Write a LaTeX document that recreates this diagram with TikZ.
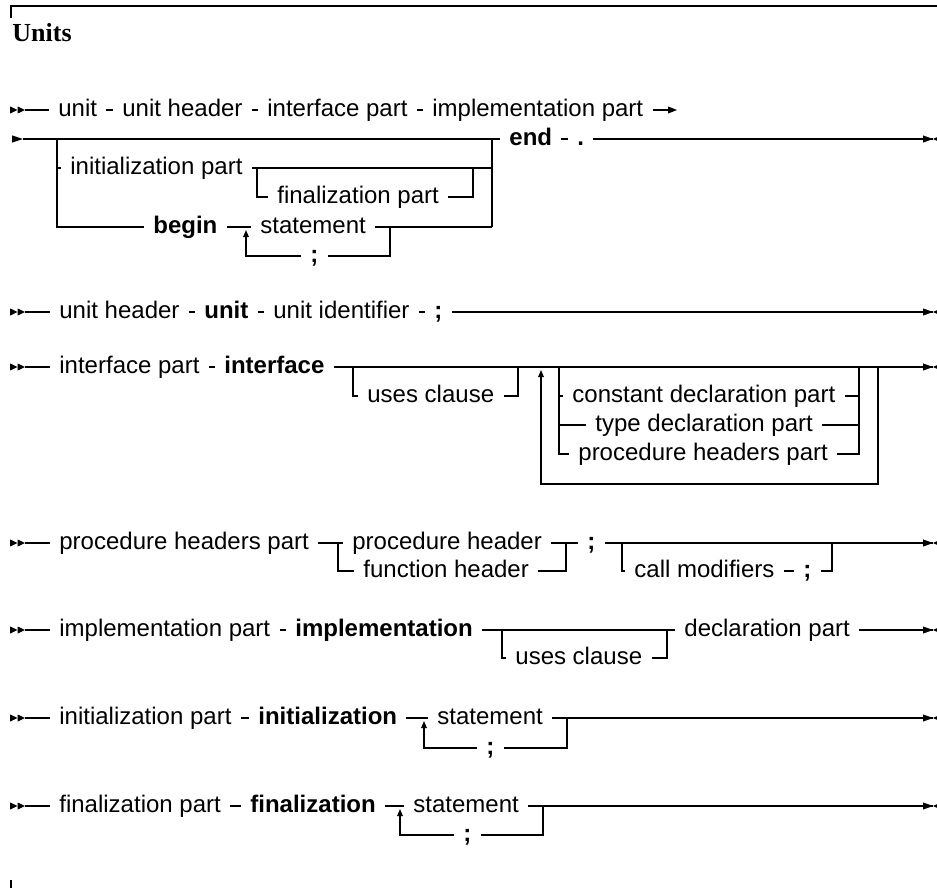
\documentclass[tikz,border=0pt]{standalone}
\usepackage{fontspec}
\setmainfont{Liberation Serif}
\setsansfont{Liberation Sans}
\usetikzlibrary{arrows.meta}
\tikzset{
  rail/.style={line width=0.6pt},
  nt/.style={font=\sffamily\fontsize{12}{14}\selectfont, inner xsep=4.5pt, inner ysep=0pt, anchor=mid west},
  kw/.style={nt, font=\sffamily\bfseries\fontsize{12}{14}\selectfont},
  loopback/.style={rail, -{Triangle[length=3.5pt,width=2.8pt]}},
  goon/.style={rail, -{Triangle[length=4.5pt,width=3.4pt]}},
  startmark/.pic={\fill (0,-3.6) -- (7.5,0) -- (0,3.6) -- cycle;
                  \fill (7.5,-3.6) -- (15,0) -- (7.5,3.6) -- cycle;},
  contmark/.pic={\fill (0,-3.6) -- (11,0) -- (0,3.6) -- cycle;},
  endmark/.pic={\fill (-10,-3.6) -- (0,0) -- (-10,3.6) -- cycle;
                \fill (8,-3.6) -- (0,0) -- (8,3.6) -- cycle;}
}
\begin{document}
\begin{tikzpicture}[x=0.5pt, y=-0.5pt]
   \sffamily\fontsize{12}{14}\selectfont
   \useasboundingbox (0,0) rectangle (937,888);
   \draw[line width=0.8pt] (11,18) -- (11,6) -- (937,6);
   \draw[line width=0.6pt] (11,880) -- (11,888);
   \node[anchor=base west, inner sep=0pt, font=\rmfamily\bfseries\fontsize{13}{15}\selectfont] (title) at (12,42) {Units};
   % unit
   \pic at (10,110) {startmark};
   \coordinate (uS) at (25,110);
   \node[nt] (uA) at (49,110) {unit};
   \node[nt] (uB) at (113,110) {unit header};
   \node[nt] (uC) at (258,110) {interface part};
   \node[nt] (uD) at (423,110) {implementation part};
   \coordinate (uT) at (677,110);
   \draw[rail] (uS) -- (uA.mid west) (uA.mid east) -- (uB.mid west) (uB.mid east) -- (uC.mid west) (uC.mid east) -- (uD.mid west);
   \draw[goon] (uD.mid east) -- (uT);
   \pic at (12,139) {contmark};
   \coordinate (uS2) at (23,139);
   \coordinate (uL) at (57,139);
   \coordinate (uR) at (492,139);
   \coordinate (uRb) at (492,227);
   \node[kw] (uEnd) at (500,139) {end};
   \node[kw] (uDot) at (568,139) {.};
   \coordinate (uE) at (933,139);
   \draw[rail] (uS2) -- (uEnd.mid west) (uEnd.mid east) -- (uDot.mid west) (uDot.mid east) -- (uE);
   \pic at (uE) {endmark};
   \node[nt] (uInit) at (61,168) {initialization part};
   \coordinate (uF1) at (257,168);
   \coordinate (uF2) at (473,168);
   \node[nt] (uFin) at (268,197) {finalization part};
   \node[kw] (uBegin) at (144,227) {begin};
   \coordinate (uLp) at (246,227);
   \coordinate (uLpa) at (246,230);
   \node[nt] (uStmt) at (251,227) {statement};
   \coordinate (uLq) at (390,227);
   \node[kw] (uSemi) at (301,256) {;};
   \draw[rail] (uL) |- (uInit.mid west) (uL) |- (uBegin.mid west) (uR) -- (uRb);
   \draw[rail] (uInit.mid east) -- (uR |- uF2);
   \draw[rail] (uF1) |- (uFin.mid west) (uFin.mid east) -| (uF2);
   \draw[rail] (uBegin.mid east) -- (uStmt.mid west) (uStmt.mid east) -- (uRb);
   \draw[rail] (uLq) |- (uSemi.mid east);
   \draw[loopback] (uSemi.mid west) -| (uLpa);
   % unit header
   \pic at (10,312) {startmark};
   \coordinate (hS) at (25,312);
   \node[nt] (hA) at (50,312) {unit header};
   \node[kw] (hB) at (195,312) {unit};
   \node[nt] (hC) at (264,312) {unit identifier};
   \node[kw] (hD) at (425,312) {;};
   \coordinate (hE) at (933,312);
   \draw[rail] (hS) -- (hA.mid west) (hA.mid east) -- (hB.mid west) (hB.mid east) -- (hC.mid west) (hC.mid east) -- (hD.mid west) (hD.mid east) -- (hE);
   \pic at (hE) {endmark};
   % interface part
   \pic at (10,367) {startmark};
   \coordinate (iS) at (25,367);
   \node[nt] (iA) at (50,367) {interface part};
   \node[kw] (iB) at (215,367) {interface};
   \coordinate (iU) at (353,367);
   \node[nt] (iUses) at (358,396) {uses clause};
   \coordinate (iJ) at (518,367);
   \coordinate (iLpa) at (541,370);
   \coordinate (iLpb) at (541,484);
   \coordinate (iC1) at (559,367);
   \coordinate (iC2) at (859,367);
   \coordinate (iLq) at (878,367);
   \coordinate (iLqb) at (878,484);
   \node[nt] (iCon) at (563,396) {constant declaration part};
   \node[nt] (iTyp) at (586,425) {type declaration part};
   \node[nt] (iPro) at (569,454) {procedure headers part};
   \coordinate (iE) at (933,367);
   \draw[rail] (iS) -- (iA.mid west) (iA.mid east) -- (iB.mid west) (iB.mid east) -- (iE);
   \pic at (iE) {endmark};
   \draw[rail] (iU) |- (iUses.mid west) (iUses.mid east) -| (iJ);
   \draw[rail] (iC1) |- (iCon.mid west) (iC1) |- (iTyp.mid west) (iC1) |- (iPro.mid west);
   \draw[rail] (iCon.mid east) -| (iC2) (iTyp.mid east) -| (iC2) (iPro.mid east) -| (iC2);
   \draw[loopback] (iLq) -- (iLqb) -- (iLpb) -- (iLpa);
   % procedure headers part
   \pic at (10,543) {startmark};
   \coordinate (pS) at (25,543);
   \node[nt] (pA) at (50,543) {procedure headers part};
   \coordinate (pU) at (338,543);
   \node[nt] (pB) at (343,543) {procedure header};
   \node[nt] (pFun) at (354,571) {function header};
   \coordinate (pJ) at (566,543);
   \node[kw] (pC) at (578,543) {;};
   \coordinate (pU2) at (622,543);
   \node[nt] (pCall) at (625,571) {call modifiers};
   \node[kw] (pSemi) at (794,571) {;};
   \coordinate (pJ2) at (832,543);
   \coordinate (pE) at (933,543);
   \draw[rail] (pS) -- (pA.mid west) (pA.mid east) -- (pB.mid west) (pB.mid east) -- (pC.mid west) (pC.mid east) -- (pE);
   \pic at (pE) {endmark};
   \draw[rail] (pU) |- (pFun.mid west) (pFun.mid east) -| (pJ);
   \draw[rail] (pU2) |- (pCall.mid west) (pCall.mid east) -- (pSemi.mid west) (pSemi.mid east) -| (pJ2);
   % implementation part
   \pic at (10,630) {startmark};
   \coordinate (mS) at (25,630);
   \node[nt] (mA) at (50,630) {implementation part};
   \node[kw] (mB) at (286,630) {implementation};
   \coordinate (mU) at (502,630);
   \node[nt] (mUses) at (506,658) {uses clause};
   \coordinate (mJ) at (667,630);
   \node[nt] (mD) at (675,630) {declaration part};
   \coordinate (mE) at (933,630);
   \draw[rail] (mS) -- (mA.mid west) (mA.mid east) -- (mB.mid west) (mB.mid east) -- (mD.mid west) (mD.mid east) -- (mE);
   \pic at (mE) {endmark};
   \draw[rail] (mU) |- (mUses.mid west) (mUses.mid east) -| (mJ);
   % initialization part
   \pic at (10,718) {startmark};
   \coordinate (nS) at (25,718);
   \node[nt] (nA) at (50,718) {initialization part};
   \node[kw] (nB) at (249,718) {initialization};
   \coordinate (nLpa) at (424,721);
   \node[nt] (nStmt) at (428,718) {statement};
   \coordinate (nLq) at (567,718);
   \node[kw] (nSemi) at (477,748) {;};
   \coordinate (nE) at (933,718);
   \draw[rail] (nS) -- (nA.mid west) (nA.mid east) -- (nB.mid west) (nB.mid east) -- (nStmt.mid west) (nStmt.mid east) -- (nE);
   \pic at (nE) {endmark};
   \draw[rail] (nLq) |- (nSemi.mid east);
   \draw[loopback] (nSemi.mid west) -| (nLpa);
   % finalization part
   \pic at (10,806) {startmark};
   \coordinate (fS) at (25,806);
   \node[nt] (fA) at (50,806) {finalization part};
   \node[kw] (fB) at (241,806) {finalization};
   \coordinate (fLpa) at (400,809);
   \node[nt] (fStmt) at (404,806) {statement};
   \coordinate (fLq) at (543,806);
   \node[kw] (fSemi) at (454,835) {;};
   \coordinate (fE) at (933,806);
   \draw[rail] (fS) -- (fA.mid west) (fA.mid east) -- (fB.mid west) (fB.mid east) -- (fStmt.mid west) (fStmt.mid east) -- (fE);
   \pic at (fE) {endmark};
   \draw[rail] (fLq) |- (fSemi.mid east);
   \draw[loopback] (fSemi.mid west) -| (fLpa);
\end{tikzpicture}
\end{document}
